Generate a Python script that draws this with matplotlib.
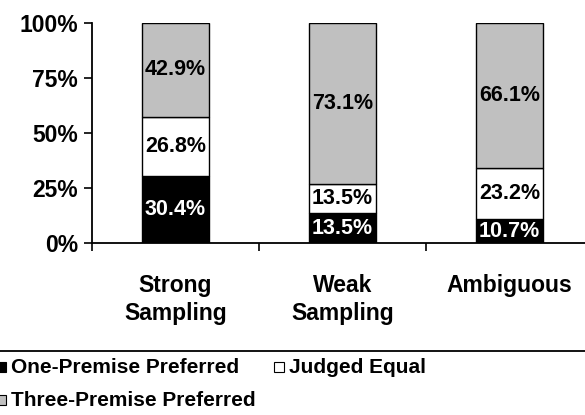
import matplotlib
matplotlib.use("Agg")
import matplotlib.pyplot as plt
from matplotlib.patches import Rectangle
from matplotlib.lines import Line2D
import numpy as np

categories = ["Strong\nSampling", "Weak\nSampling", "Ambiguous"]
one_premise = [30.4, 13.5, 10.7]
judged_equal = [26.8, 13.5, 23.2]
three_premise = [42.9, 73.1, 66.1]
series_names = ["One-Premise Preferred", "Judged Equal", "Three-Premise Preferred"]
colors = ["#000000", "#ffffff", "#c0c0c0"]
label_colors = ["white", "black", "black"]
yticks = [0, 25, 50, 75, 100]

plt.rcParams['font.family'] = ['Liberation Sans', 'DejaVu Sans']
plt.rcParams['font.weight'] = 'bold'

W, H = 585, 415
fig = plt.figure(figsize=(W / 100, H / 100), dpi=100)
ax = fig.add_axes([92 / W, (H - 243) / H, 501 / W, 220 / H])

x = np.arange(len(categories))
bottom = np.zeros(len(categories))
for vals, col, lc in zip([one_premise, judged_equal, three_premise], colors, label_colors):
    vals = np.array(vals)
    ax.bar(x, vals, width=0.4, bottom=bottom, color=col, edgecolor="black", linewidth=1.0, zorder=2)
    for xi, b, v in zip(x, bottom, vals):
        ax.text(xi, b + v / 2, f"{v:.1f}%", ha="center", va="center", color=lc,
                fontsize=15.5, fontweight="bold", zorder=3)
    bottom = bottom + vals

ax.set_xlim(-0.5, 2.5)
ax.set_ylim(0, 100)
ax.set_yticks(yticks)
ax.set_yticklabels([f"{t}%" for t in yticks], fontsize=16.5, fontweight="bold")
ax.set_xticks(x)
ax.set_xticklabels(categories, fontsize=16.5, fontweight="bold", linespacing=1.3)
ax.tick_params(axis="x", which="major", length=0, pad=22)
ax.set_xticks([-0.5, 0.5, 1.5, 2.5], minor=True)
ax.tick_params(axis="x", which="minor", length=6, width=1.2, direction="out")
ax.tick_params(axis="y", length=6, width=1.2, direction="out", pad=4)
for s in ["top", "right"]:
    ax.spines[s].set_visible(False)
for s in ["left", "bottom"]:
    ax.spines[s].set_linewidth(1.3)

# Legend (partially cut off at the left, as in the reference)
fig.add_artist(Line2D([0, 1], [1 - 351 / H, 1 - 351 / H], transform=fig.transFigure,
                      color="black", linewidth=1.3))
legend_items = [(series_names[0], colors[0], -4, 367), (series_names[1], colors[1], 274, 367),
                (series_names[2], colors[2], -4, 400)]
for name, col, px, py in legend_items:
    fig.add_artist(Rectangle((px / W, 1 - (py + 5) / H), 10 / W, 10 / H, transform=fig.transFigure,
                             facecolor=col, edgecolor="black", linewidth=0.8))
    fig.text((px + 15) / W, 1 - py / H, name, ha="left", va="center", fontsize=15,
             fontweight="bold")

fig.savefig("out.png", dpi=100)
